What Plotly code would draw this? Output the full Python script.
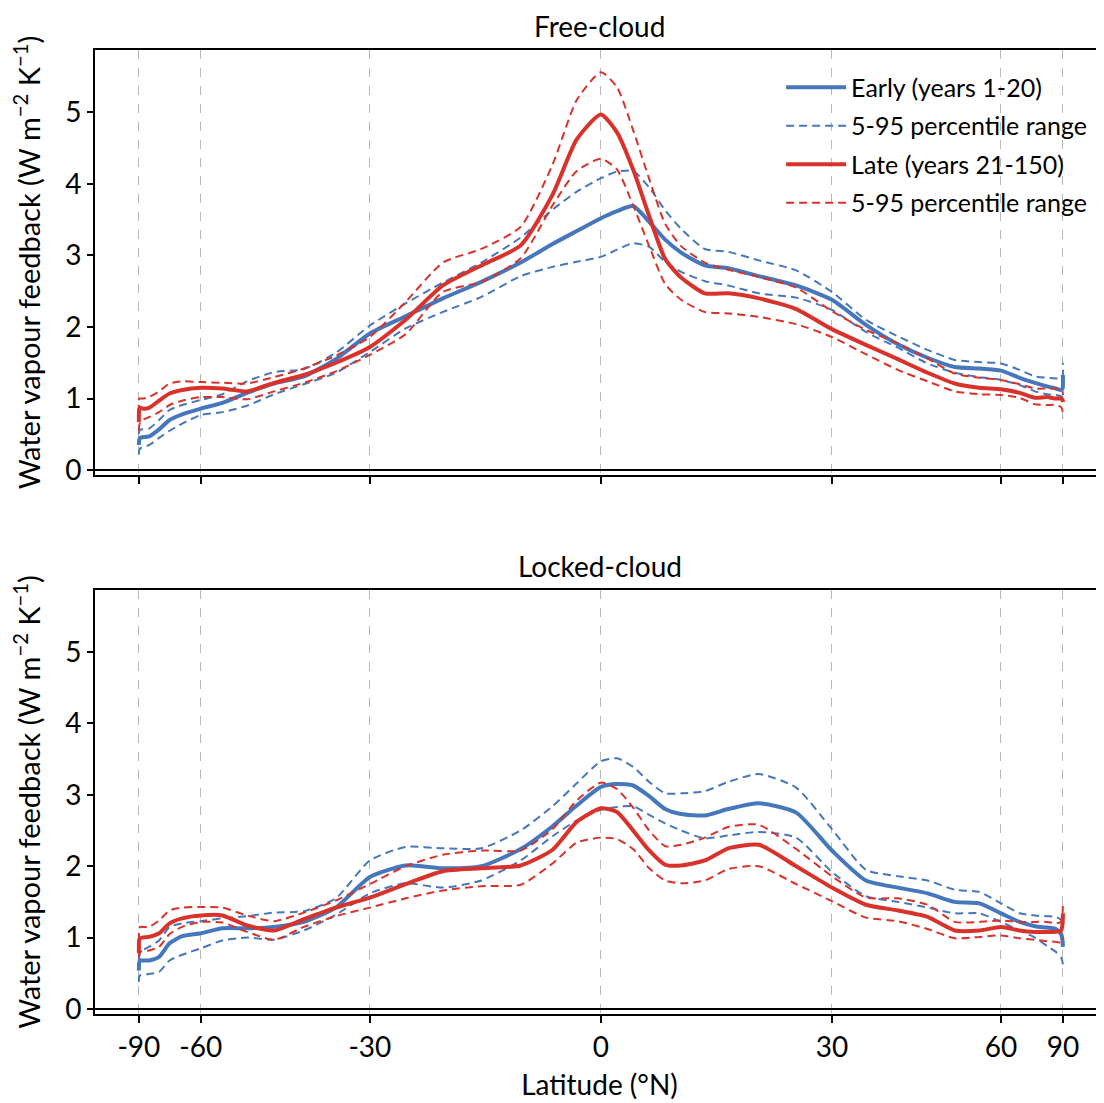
import numpy as np
import plotly.graph_objects as go

# Latitude grid (degrees north)
lat = [-90, -88, -86, -83, -78, -73, -69, -65, -60, -55, -50, -45, -40, -35, -30, -25, -20,
       -15, -10, -6, -3, 0, 2, 4, 6, 8, 10, 13, 16, 20, 25, 30, 35, 40, 45, 50, 55, 60, 65,
       70, 75, 80, 85, 88, 90]

# Free-cloud panel
free_early = [0.35, 0.42, 0.45, 0.46, 0.47, 0.57, 0.70, 0.78, 0.86, 0.94, 1.08, 1.21, 1.31,
              1.55, 1.91, 2.15, 2.40, 2.63, 2.90, 3.16, 3.34, 3.52, 3.62, 3.69, 3.47, 3.22,
              3.04, 2.86, 2.82, 2.71, 2.58, 2.38, 2.03, 1.76, 1.57, 1.44, 1.42, 1.39, 1.29,
              1.22, 1.17, 1.14, 1.12, 1.14, 1.33]
free_early_hi = [0.50, 0.55, 0.56, 0.57, 0.58, 0.70, 0.84, 0.91, 0.98, 1.06, 1.24, 1.37, 1.41,
                 1.64, 2.02, 2.33, 2.62, 2.90, 3.25, 3.64, 3.89, 4.08, 4.17, 4.18, 3.95, 3.63,
                 3.37, 3.09, 3.05, 2.93, 2.79, 2.49, 2.10, 1.87, 1.68, 1.54, 1.51, 1.49, 1.40,
                 1.31, 1.29, 1.28, 1.28, 1.30, 1.50]
free_early_lo = [0.22, 0.27, 0.30, 0.32, 0.35, 0.45, 0.55, 0.65, 0.77, 0.81, 0.90, 1.06, 1.20,
                 1.36, 1.65, 1.98, 2.21, 2.42, 2.71, 2.84, 2.91, 2.98, 3.08, 3.17, 3.12, 2.91,
                 2.77, 2.64, 2.58, 2.47, 2.41, 2.24, 1.93, 1.71, 1.49, 1.36, 1.30, 1.26, 1.19,
                 1.10, 1.06, 1.05, 1.03, 1.00, 0.95]
free_late = [0.67, 0.85, 0.87, 0.86, 0.87, 0.97, 1.07, 1.12, 1.15, 1.14, 1.10, 1.22, 1.33,
             1.50, 1.72, 2.10, 2.58, 2.86, 3.14, 3.85, 4.62, 4.97, 4.72, 4.20, 3.55, 2.95,
             2.69, 2.47, 2.47, 2.40, 2.25, 1.97, 1.75, 1.55, 1.36, 1.21, 1.15, 1.13, 1.08,
             1.01, 1.02, 1.00, 1.00, 0.98, 0.95]
free_late_hi = [0.80, 1.00, 1.00, 1.00, 1.02, 1.10, 1.21, 1.24, 1.23, 1.22, 1.21, 1.30, 1.42,
                1.60, 1.86, 2.35, 2.90, 3.09, 3.40, 4.27, 5.17, 5.56, 5.35, 4.75, 4.07, 3.44,
                3.13, 2.90, 2.80, 2.70, 2.55, 2.22, 1.96, 1.77, 1.56, 1.35, 1.29, 1.26, 1.20,
                1.14, 1.14, 1.14, 1.12, 1.10, 1.05]
free_late_lo = [0.55, 0.62, 0.66, 0.70, 0.74, 0.81, 0.91, 0.97, 1.02, 1.02, 0.99, 1.10, 1.22,
                1.38, 1.61, 1.90, 2.49, 2.63, 2.96, 3.70, 4.18, 4.35, 4.20, 3.70, 3.13, 2.60,
                2.38, 2.21, 2.19, 2.14, 2.04, 1.86, 1.62, 1.40, 1.24, 1.10, 1.06, 1.05, 1.01,
                0.92, 0.91, 0.91, 0.88, 0.82, 0.74]

# Locked-cloud panel
lock_early = [0.54, 0.65, 0.68, 0.68, 0.68, 0.73, 0.92, 1.02, 1.06, 1.13, 1.13, 1.15, 1.22,
              1.42, 1.85, 2.01, 1.97, 2.00, 2.24, 2.56, 2.85, 3.11, 3.15, 3.13, 2.98, 2.80,
              2.73, 2.71, 2.80, 2.88, 2.75, 2.22, 1.80, 1.70, 1.62, 1.50, 1.48, 1.34, 1.22,
              1.16, 1.14, 1.12, 1.05, 0.95, 0.87]
lock_early_hi = [0.68, 0.73, 0.78, 0.82, 0.87, 0.96, 1.15, 1.20, 1.23, 1.27, 1.30, 1.35, 1.37,
                 1.55, 2.08, 2.27, 2.25, 2.25, 2.50, 2.84, 3.16, 3.47, 3.51, 3.39, 3.18, 3.02,
                 3.02, 3.05, 3.18, 3.29, 3.10, 2.52, 1.95, 1.86, 1.80, 1.67, 1.64, 1.48, 1.34,
                 1.31, 1.30, 1.29, 1.25, 1.20, 1.15]
lock_early_lo = [0.38, 0.45, 0.47, 0.48, 0.49, 0.52, 0.68, 0.76, 0.85, 0.96, 1.00, 0.97, 1.10,
                 1.32, 1.62, 1.76, 1.70, 1.80, 2.08, 2.42, 2.64, 2.79, 2.83, 2.84, 2.72, 2.60,
                 2.50, 2.39, 2.43, 2.48, 2.40, 1.92, 1.58, 1.50, 1.42, 1.34, 1.34, 1.22, 1.10,
                 1.00, 0.88, 0.80, 0.72, 0.65, 0.59]
lock_late = [0.78, 0.97, 0.99, 1.00, 1.01, 1.06, 1.20, 1.27, 1.31, 1.31, 1.17, 1.10, 1.26,
             1.42, 1.56, 1.75, 1.93, 1.97, 2.01, 2.23, 2.62, 2.81, 2.76, 2.50, 2.22, 2.02,
             2.01, 2.08, 2.25, 2.30, 2.00, 1.70, 1.46, 1.38, 1.29, 1.10, 1.10, 1.15, 1.10,
             1.08, 1.08, 1.08, 1.10, 1.20, 1.34]
lock_late_hi = [0.95, 1.12, 1.15, 1.15, 1.15, 1.24, 1.38, 1.42, 1.43, 1.42, 1.31, 1.23, 1.35,
                1.52, 1.75, 2.00, 2.16, 2.22, 2.22, 2.52, 2.92, 3.17, 3.08, 2.82, 2.50, 2.28,
                2.30, 2.40, 2.55, 2.58, 2.24, 1.86, 1.56, 1.55, 1.46, 1.22, 1.22, 1.24, 1.22,
                1.22, 1.22, 1.20, 1.22, 1.35, 1.52]
lock_late_lo = [0.72, 0.78, 0.80, 0.81, 0.82, 0.87, 1.05, 1.15, 1.22, 1.21, 1.08, 0.97, 1.15,
                1.30, 1.42, 1.55, 1.66, 1.72, 1.74, 2.04, 2.33, 2.40, 2.38, 2.24, 1.97, 1.80,
                1.76, 1.80, 1.96, 2.00, 1.75, 1.51, 1.28, 1.23, 1.12, 0.99, 1.01, 1.03, 0.99,
                0.97, 0.95, 0.94, 0.93, 0.95, 1.00]

tick_lats = [-90, -60, -30, 0, 30, 60, 90]
tick_text = ["-90", "-60", "-30", "0", "30", "60", "90"]
y_ticks = [0, 1, 2, 3, 4, 5]

BLUE = "#4677bd"
RED = "#d8322b"
FONT = "Lato"
DASH = "8px,5px"

x = np.sin(np.deg2rad(lat))
tickvals = np.sin(np.deg2rad(tick_lats))

fig = go.Figure()

series = [
    ("top", free_early, free_early_hi, free_early_lo, free_late, free_late_hi, free_late_lo),
    ("bot", lock_early, lock_early_hi, lock_early_lo, lock_late, lock_late_hi, lock_late_lo),
]
for name, e, ehi, elo, l, lhi, llo in series:
    xa, ya = ("x", "y") if name == "top" else ("x2", "y2")
    show = name == "top"
    specs = [
        (e, BLUE, 4, None, "Early (years 1-20)", show, "g1"),
        (ehi, BLUE, 2, DASH, "5-95 percentile range", show, "g2"),
        (elo, BLUE, 2, DASH, None, False, "g2"),
        (l, RED, 4, None, "Late (years 21-150)", show, "g3"),
        (lhi, RED, 2, DASH, "5-95 percentile range", show, "g4"),
        (llo, RED, 2, DASH, None, False, "g4"),
    ]
    for yv, col, w, dash, label, sl, grp in specs:
        fig.add_trace(go.Scatter(
            x=x, y=yv, mode="lines",
            line=dict(color=col, width=w, dash=dash, shape="spline", smoothing=0.6),
            name=label, showlegend=sl, legendgroup=grp, xaxis=xa, yaxis=ya))

xcommon = dict(range=[-1.095, 1.089], tickvals=tickvals, ticktext=tick_text,
               ticks="outside", ticklen=7, tickwidth=2, tickcolor="black",
               showline=True, linecolor="black", linewidth=2, mirror=True,
               showgrid=True, gridcolor="#b8b8b8", gridwidth=1, griddash="dash",
               zeroline=False, automargin=False,
               tickfont=dict(family=FONT, size=28, color="black"))
ycommon = dict(range=[-0.07, 5.87], tickvals=y_ticks, ticks="outside", ticklen=6, tickwidth=2,
               tickcolor="black", showline=True, linecolor="black", linewidth=2,
               showgrid=False, zeroline=True, zerolinecolor="black", zerolinewidth=2,
               automargin=False,
               tickfont=dict(family=FONT, size=28, color="black"),
               title=dict(text="Water vapour feedback (W m<sup>−2</sup> K<sup>−1</sup>)",
                          font=dict(family=FONT, size=29, color="black"), standoff=16))

# The page body adds an 8px offset, so the figure is 8px smaller than the window.
fig.update_layout(
    width=1096, height=1095,
    margin=dict(l=87, r=0, t=42, b=89),
    paper_bgcolor="white", plot_bgcolor="white",
    xaxis=dict(**xcommon, domain=[0, 1], anchor="y", showticklabels=False, matches="x2"),
    yaxis=dict(**ycommon, domain=[0.559, 1.0], anchor="x"),
    xaxis2=dict(**xcommon, domain=[0, 1], anchor="y2",
                title=dict(text="Latitude (°N)", font=dict(family=FONT, size=28, color="black"),
                           standoff=14)),
    yaxis2=dict(**ycommon, domain=[0.0, 0.44], anchor="x2"),
    legend=dict(x=0.68, y=0.985, xanchor="left", yanchor="top", bgcolor="rgba(0,0,0,0)",
                font=dict(family=FONT, size=25, color="black"), tracegroupgap=3,
                itemwidth=60),
    annotations=[
        dict(text="Free-cloud", x=0.5, y=1.0, xref="paper", yref="paper", xanchor="center",
             yanchor="bottom", yshift=5, showarrow=False,
             font=dict(family=FONT, size=28, color="black")),
        dict(text="Locked-cloud", x=0.5, y=0.44, xref="paper", yref="paper", xanchor="center",
             yanchor="bottom", yshift=5, showarrow=False,
             font=dict(family=FONT, size=28, color="black")),
    ],
)

fig.write_html("out.html")
